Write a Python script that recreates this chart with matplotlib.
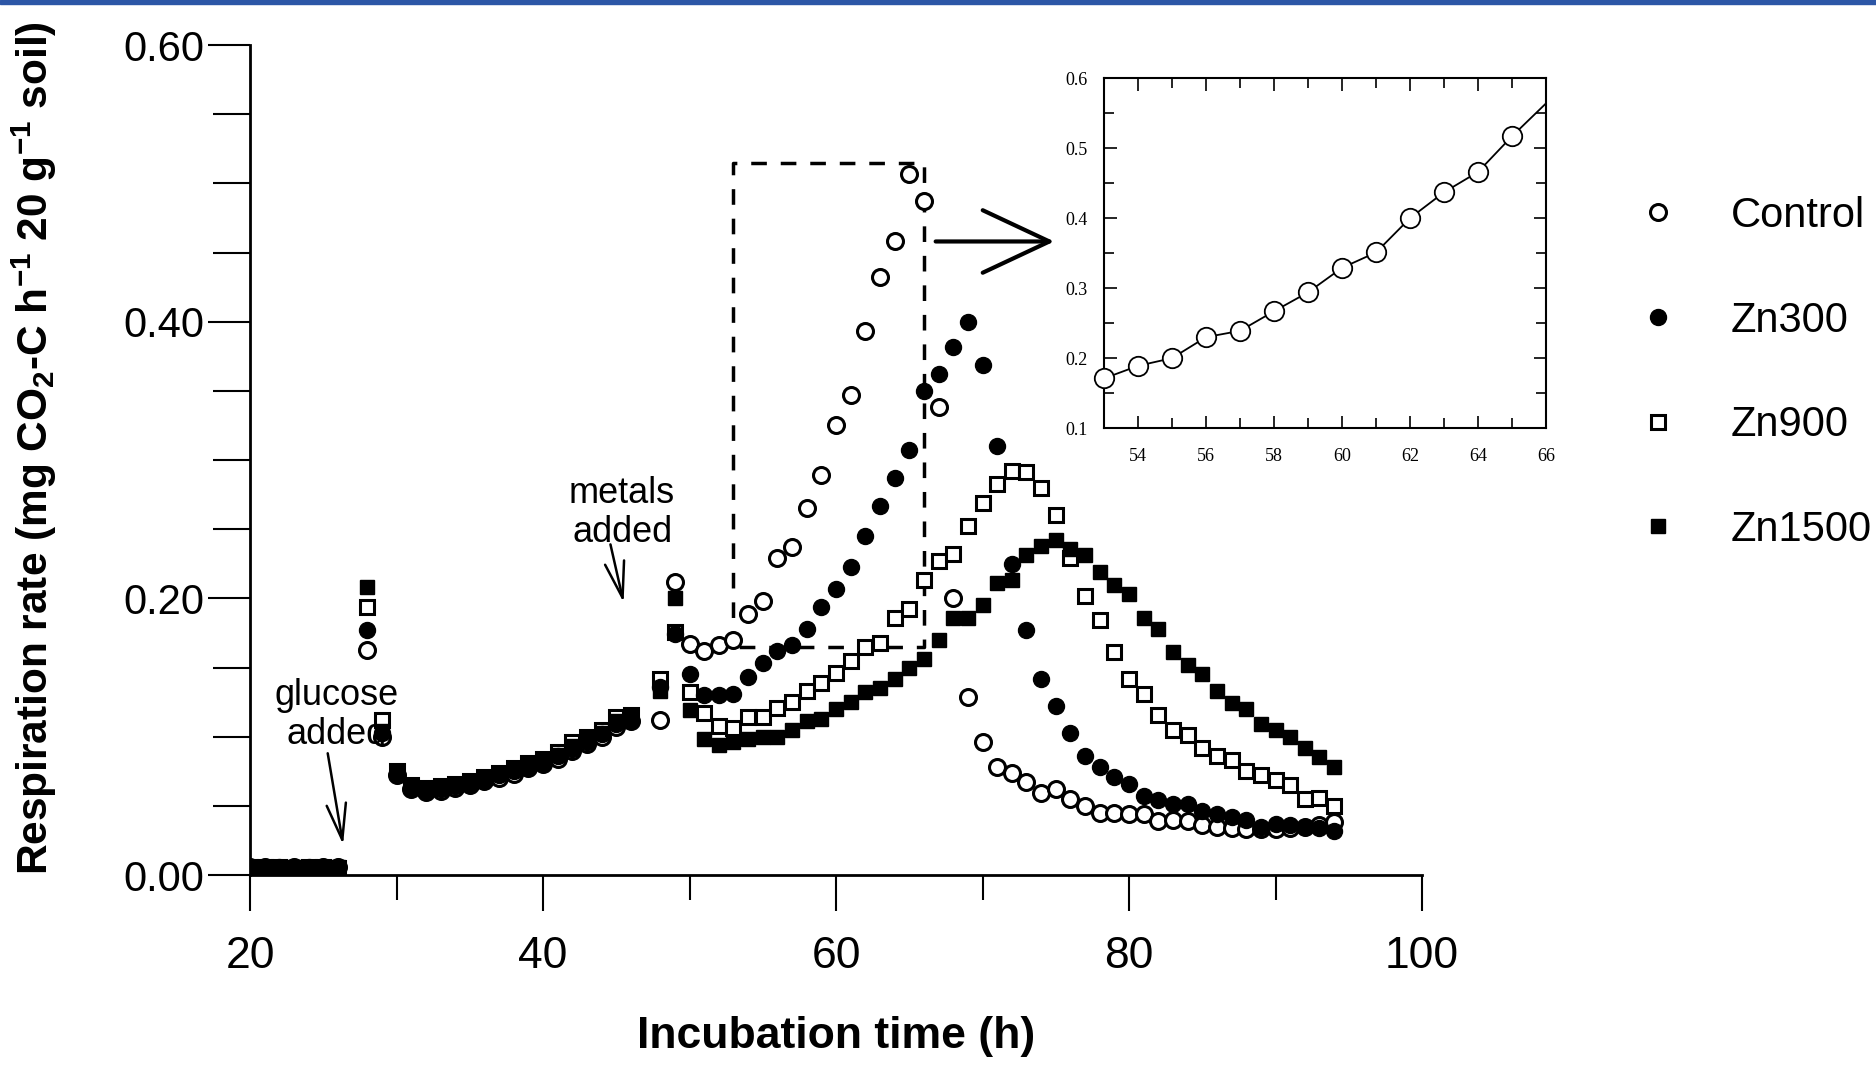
import matplotlib
matplotlib.use("Agg")
import matplotlib.pyplot as plt
from matplotlib.lines import Line2D
from matplotlib.patches import Rectangle
from matplotlib.ticker import MultipleLocator, FormatStrFormatter

plt.rcParams['font.family'] = ['Liberation Sans', 'DejaVu Sans']
plt.rcParams['mathtext.fontset'] = 'custom'
plt.rcParams['mathtext.rm'] = 'Liberation Sans'
plt.rcParams['mathtext.bf'] = 'Liberation Sans:bold'

# sampling times (h): before glucose, after glucose, after metals
hours = list(range(20, 27)) + list(range(28, 47)) + list(range(48, 95))

control = [0.006, 0.006, 0.005, 0.006, 0.005, 0.006, 0.006,
           0.163, 0.100,
           0.072, 0.062, 0.060, 0.061, 0.063, 0.065, 0.068, 0.070, 0.073,
           0.077, 0.080, 0.084, 0.090, 0.095, 0.100, 0.107, 0.111,
           0.112, 0.212, 0.167, 0.162, 0.166, 0.170, 0.189, 0.198, 0.229,
           0.237, 0.265, 0.289, 0.325, 0.347, 0.393, 0.432, 0.458, 0.507,
           0.487, 0.338, 0.200, 0.129, 0.096, 0.078, 0.074, 0.067, 0.059,
           0.062, 0.055, 0.050, 0.045, 0.045, 0.044, 0.044, 0.039, 0.040,
           0.039, 0.036, 0.035, 0.034, 0.033, 0.033, 0.033, 0.034, 0.035,
           0.036, 0.038]
zn300 = [0.006, 0.005, 0.006, 0.005, 0.006, 0.005, 0.006,
         0.177, 0.103,
         0.073, 0.063, 0.061, 0.062, 0.064, 0.066, 0.069, 0.072, 0.075,
         0.078, 0.081, 0.086, 0.091, 0.096, 0.102, 0.109, 0.112,
         0.136, 0.174, 0.145, 0.130, 0.130, 0.131, 0.143, 0.153, 0.162,
         0.166, 0.178, 0.194, 0.207, 0.223, 0.245, 0.267, 0.287, 0.307,
         0.350, 0.362, 0.382, 0.400, 0.369, 0.310, 0.225, 0.177, 0.142,
         0.122, 0.103, 0.086, 0.078, 0.071, 0.066, 0.057, 0.054, 0.051,
         0.051, 0.046, 0.044, 0.042, 0.040, 0.035, 0.037, 0.036, 0.035,
         0.034, 0.032]
zn900 = [0.006, 0.006, 0.006, 0.005, 0.006, 0.006, 0.005,
         0.194, 0.112,
         0.075, 0.065, 0.063, 0.064, 0.066, 0.068, 0.071, 0.074, 0.077,
         0.081, 0.084, 0.089, 0.096, 0.100, 0.105, 0.114, 0.116,
         0.142, 0.176, 0.132, 0.117, 0.108, 0.106, 0.114, 0.114, 0.121,
         0.125, 0.133, 0.139, 0.146, 0.155, 0.165, 0.168, 0.186, 0.192,
         0.213, 0.227, 0.232, 0.252, 0.269, 0.283, 0.292, 0.291, 0.280,
         0.260, 0.229, 0.202, 0.184, 0.161, 0.142, 0.131, 0.116, 0.105,
         0.101, 0.092, 0.086, 0.083, 0.075, 0.072, 0.069, 0.065, 0.055,
         0.056, 0.050]
zn1500 = [0.005, 0.006, 0.006, 0.006, 0.005, 0.006, 0.006,
          0.208, 0.104,
          0.074, 0.064, 0.062, 0.063, 0.065, 0.067, 0.070, 0.073, 0.076,
          0.080, 0.083, 0.087, 0.093, 0.098, 0.103, 0.111, 0.114,
          0.133, 0.200, 0.119, 0.098, 0.094, 0.096, 0.098, 0.100, 0.100,
          0.105, 0.111, 0.113, 0.120, 0.125, 0.132, 0.135, 0.142, 0.150,
          0.156, 0.170, 0.186, 0.186, 0.195, 0.211, 0.213, 0.231, 0.238,
          0.242, 0.236, 0.231, 0.219, 0.210, 0.203, 0.186, 0.178, 0.161,
          0.152, 0.145, 0.133, 0.124, 0.120, 0.109, 0.105, 0.100, 0.092,
          0.085, 0.078]

# inset: control between 53 and 66 h with the fitted curve
inset_hours = [53, 54, 55, 56, 57, 58, 59, 60, 61, 62, 63, 64, 65]
inset_control = [0.171, 0.189, 0.200, 0.230, 0.239, 0.267, 0.294, 0.329,
                 0.351, 0.400, 0.437, 0.466, 0.517]
fit_hours = [53, 54, 55, 56, 57, 58, 59, 60, 61, 62, 63, 64, 65, 66]
fit_control = [0.171, 0.189, 0.200, 0.230, 0.239, 0.267, 0.294, 0.329,
               0.351, 0.400, 0.437, 0.466, 0.517, 0.564]

zoom_box = [53, 66, 0.165, 0.515]

fig = plt.figure(figsize=(18.76, 10.65), dpi=100)
fig.patches.append(Rectangle((0, 0.9965), 1, 0.0035, transform=fig.transFigure,
                             color='#2c56a6', zorder=10))

ax = fig.add_axes([0.1333, 0.1784, 0.6247, 0.7793])
ms = 11.5
ax.plot(hours, control, 'o', ms=ms, mfc='white', mec='black', mew=2.2, ls='none', zorder=3)
ax.plot(hours, zn900, 's', ms=ms - 1, mfc='white', mec='black', mew=2.2, ls='none', zorder=4)
ax.plot(hours, zn300, 'o', ms=ms, mfc='black', mec='black', mew=1, ls='none', zorder=5)
ax.plot(hours, zn1500, 's', ms=ms - 1, mfc='black', mec='black', mew=1, ls='none', zorder=6)

ax.set_xlim(20, 100)
ax.set_ylim(0, 0.6)
for s in ['top', 'right']:
    ax.spines[s].set_visible(False)
for s in ['left', 'bottom']:
    ax.spines[s].set_linewidth(2)

ax.xaxis.set_major_locator(MultipleLocator(20))
ax.xaxis.set_minor_locator(MultipleLocator(10))
ax.yaxis.set_major_locator(MultipleLocator(0.2))
ax.yaxis.set_minor_locator(MultipleLocator(0.05))
ax.tick_params(axis='x', which='major', direction='out', length=26, width=1.5,
               pad=18, labelsize=32)
ax.tick_params(axis='x', which='minor', direction='out', length=18, width=1.5)
ax.tick_params(axis='y', which='major', direction='out', length=30, width=1.5,
               pad=3, labelsize=30)
ax.tick_params(axis='y', which='minor', direction='out', length=27, width=1.5)
ax.yaxis.set_major_formatter(FormatStrFormatter('%.2f'))

ax.set_xlabel('Incubation time (h)', fontsize=32, fontweight='bold')
ax.xaxis.set_label_coords(0.5, -0.17)
ax.set_ylabel(r'Respiration rate (mg CO$_\mathbf{2}$-C h$^\mathbf{-1}$ 20 g$^\mathbf{-1}$ soil)',
              fontsize=30.5, fontweight='bold')
ax.yaxis.set_label_coords(-0.163, 0.515)

# dashed zoom box and arrow to the inset
x0, x1, y0, y1 = zoom_box
ax.plot([x0, x0, x1, x1, x0], [y0, y1, y1, y0, y0], color='black', lw=2.5,
        ls=(0, (4.5, 4)), zorder=2)
ax.annotate('', xy=(74.9, 0.458), xytext=(66.8, 0.458),
            arrowprops=dict(arrowstyle='->,head_length=1.6,head_width=0.75',
                            lw=3, color='black', mutation_scale=30,
                            shrinkA=0, shrinkB=0))

ann_font = dict(fontsize=26, ha='center', va='center', linespacing=1.15)
small_arrow = dict(arrowstyle='->,head_length=1.3,head_width=0.35', lw=1.8,
                   color='black', mutation_scale=20, shrinkA=0, shrinkB=0)
ax.text(45.4, 0.262, 'metals\nadded', **ann_font)
ax.annotate('', xy=(45.5, 0.197), xytext=(44.6, 0.239), arrowprops=small_arrow)
ax.text(25.9, 0.116, 'glucose\nadded', **ann_font)
ax.annotate('', xy=(26.35, 0.022), xytext=(25.3, 0.088), arrowprops=small_arrow)

# legend
handles = [
    Line2D([], [], marker='o', ls='none', ms=ms, mfc='white', mec='black', mew=2.2),
    Line2D([], [], marker='o', ls='none', ms=ms, mfc='black', mec='black'),
    Line2D([], [], marker='s', ms=ms - 1, ls='none', mfc='white', mec='black', mew=2.2),
    Line2D([], [], marker='s', ms=ms - 1, ls='none', mfc='black', mec='black'),
]
labels = ['Control', 'Zn300', 'Zn900', 'Zn1500']
fig.legend(handles, labels, loc='upper left', bbox_to_anchor=(0.8725, 0.816),
           frameon=False, borderpad=0, borderaxespad=0, handlelength=1.0,
           handletextpad=1.25, labelspacing=1.55, prop={'size': 30})

# inset
ins = fig.add_axes([0.5885, 0.598, 0.2356, 0.3286])
ins.plot(fit_hours, fit_control, color='black', lw=1.3, zorder=2)
ins.plot(inset_hours, inset_control, 'o', ms=14, mfc='white', mec='black',
         mew=1.3, ls='none', zorder=3, clip_on=False)
ins.set_xlim(53, 66)
ins.set_ylim(0.1, 0.6)
ins.xaxis.set_major_locator(MultipleLocator(2))
ins.xaxis.set_minor_locator(MultipleLocator(1))
ins.yaxis.set_major_locator(MultipleLocator(0.1))
ins.yaxis.set_minor_locator(MultipleLocator(0.05))
ins.tick_params(which='both', direction='in', top=True, right=True, width=1.2)
ins.tick_params(which='major', length=9)
ins.tick_params(which='minor', length=7)
ins.tick_params(axis='x', which='major', pad=14)
ins.tick_params(axis='y', which='major', pad=12)
for lab in ins.get_xticklabels() + ins.get_yticklabels():
    lab.set_family(['Liberation Serif', 'DejaVu Serif'])
    lab.set_fontsize(13)
for s in ins.spines.values():
    s.set_linewidth(1.5)

fig.savefig('out.png', dpi=100)
